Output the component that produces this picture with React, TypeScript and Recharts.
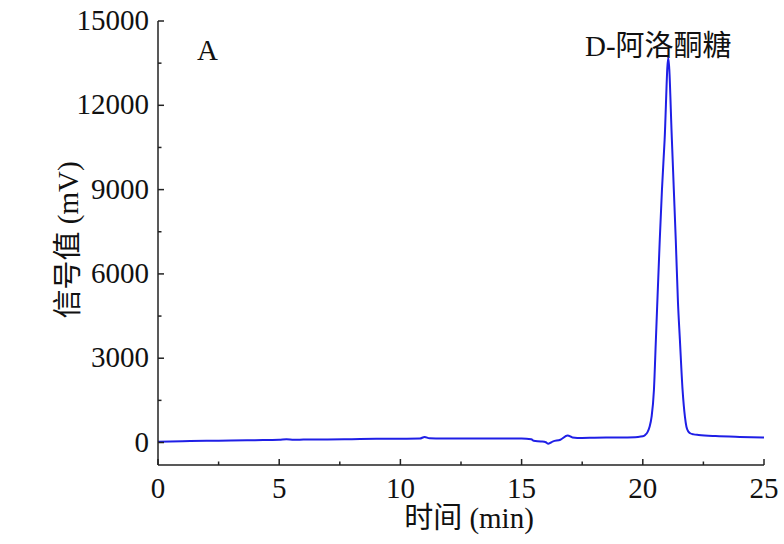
import React from 'react';
import { LineChart, Line, XAxis, YAxis } from 'recharts';

// retention time (min) and detector signal (mV)
const times = [
  0, 1, 2, 3, 4, 5, 5.3, 5.6, 6, 7, 8, 9, 10, 10.8, 11.0, 11.2, 11.6, 12, 13, 14,
  15, 15.4, 15.5, 15.8, 16.0, 16.1, 16.3, 16.6, 16.9, 17.1, 17.5, 18, 19, 19.8,
  20.0, 20.1, 20.2, 20.28, 20.36, 20.46, 20.54, 20.7, 20.79, 20.9, 21.05, 21.2,
  21.28, 21.36, 21.45, 21.53, 21.64, 21.74, 21.8, 21.87, 21.95, 22.1, 22.3, 23, 24, 25,
];
const signal = [
  30, 45, 60, 70, 85, 100, 120, 100, 105, 110, 120, 130, 135, 140, 200, 150, 145,
  140, 140, 140, 140, 120, 60, 40, 10, -40, 40, 100, 250, 180, 160, 170, 180, 200,
  220, 270, 380, 560, 900, 1880, 3660, 7215, 8990, 10770, 13690, 10770, 8990,
  7215, 5000, 3660, 1880, 900, 560, 400, 330, 290, 270, 230, 200, 180,
];

const xTicks = [0, 2.5, 5, 7.5, 10, 12.5, 15, 17.5, 20, 22.5, 25];
const yTicks = [0, 1500, 3000, 4500, 6000, 7500, 9000, 10500, 12000, 13500, 15000];

const xTitle = '时间 (min)';
const yTitle = '信号值 (mV)';
const panelLabel = 'A';
const peakLabel = 'D-阿洛酮糖';

const data = times.map((t, i) => ({ t, v: signal[i] }));

const FONT = "'Liberation Serif', 'Noto Sans CJK SC', serif";
const AXIS = '#222';

const XTick = ({ x, y, payload }: any) => {
  const major = payload.value % 5 === 0;
  return (
    <g>
      <line x1={x} x2={x} y1={y} y2={y - (major ? 6 : 3.5)} stroke={AXIS} strokeWidth={1.5} />
      {major && (
        <text x={x} y={y + 33} textAnchor="middle" fontSize={29} fontFamily={FONT} fill="#111">
          {payload.value}
        </text>
      )}
    </g>
  );
};

const YTick = ({ x, y, payload }: any) => {
  const major = payload.value % 3000 === 0;
  return (
    <g>
      <line x1={x} x2={x + (major ? 6 : 3.5)} y1={y} y2={y} stroke={AXIS} strokeWidth={1.5} />
      {major && (
        <text x={x - 9} y={y + 9} textAnchor="end" fontSize={29} fontFamily={FONT} fill="#111">
          {payload.value}
        </text>
      )}
    </g>
  );
};

export default function App() {
  return (
    <div style={{ position: 'absolute', left: 0, top: 0, width: 784, height: 544, background: '#fff' }}>
      <LineChart width={784} height={544} data={data} margin={{ top: 21, right: 20, bottom: 0, left: 0 }}>
        <XAxis
          dataKey="t"
          type="number"
          domain={[0, 25]}
          ticks={xTicks}
          interval={0}
          height={79}
          tickSize={0}
          tickMargin={0}
          tickLine={false}
          axisLine={{ stroke: AXIS, strokeWidth: 1.5 }}
          tick={<XTick />}
        />
        <YAxis
          type="number"
          domain={[-800, 15000]}
          ticks={yTicks}
          interval={0}
          width={158}
          tickSize={0}
          tickMargin={0}
          tickLine={false}
          axisLine={{ stroke: AXIS, strokeWidth: 1.5 }}
          tick={<YTick />}
          allowDataOverflow
        />
        <Line
          type="monotone"
          dataKey="v"
          stroke="#1f1fe6"
          strokeWidth={2}
          dot={false}
          isAnimationActive={false}
        />
        <text x={469} y={528} textAnchor="middle" fontSize={29} fontFamily={FONT} fill="#111">
          {xTitle}
        </text>
        <text
          x={78}
          y={240}
          textAnchor="middle"
          fontSize={29}
          fontFamily={FONT}
          fill="#111"
          transform="rotate(-90 78 240)"
        >
          {yTitle}
        </text>
        <text x={197} y={60} fontSize={29} fontFamily={FONT} fill="#111">
          {panelLabel}
        </text>
        <text x={585} y={56} fontSize={29} fontFamily={FONT} fill="#111">
          {peakLabel}
        </text>
      </LineChart>
    </div>
  );
}
